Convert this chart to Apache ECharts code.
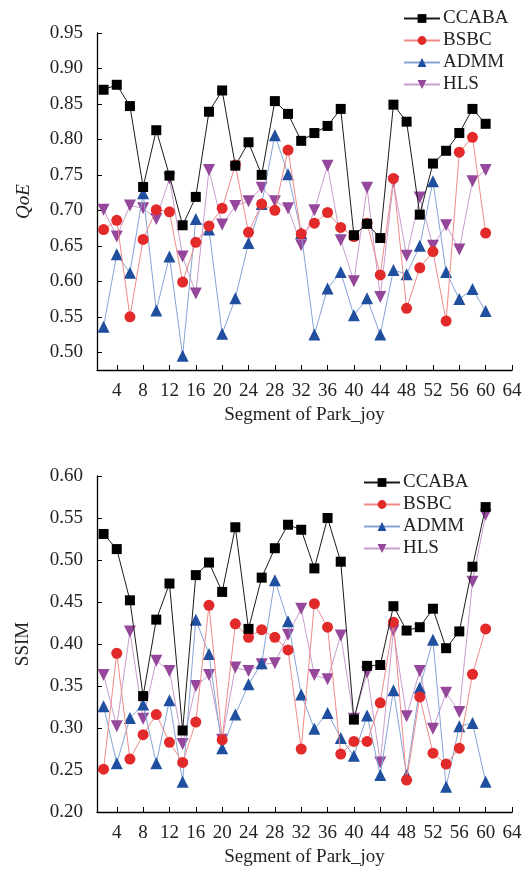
<!DOCTYPE html>
<html>
<head>
<meta charset="utf-8">
<script src="https://cdn.jsdelivr.net/npm/echarts@6/dist/echarts.min.js"></script>
<style>
  html, body { margin: 0; padding: 0; background: #fff; }
  #main { width: 528px; height: 876px; }
</style>
</head>
<body>
<div id="main"></div>
<script>
var segments = [2, 4, 6, 8, 10, 12, 14, 16, 18, 20, 22, 24, 26, 28, 30,
  32, 34, 36, 38, 40, 42, 44, 46, 48, 50, 52, 54, 56, 58, 60];
var xTicks = [4, 8, 12, 16, 20, 24, 28, 32, 36, 40, 44, 48, 52, 56, 60, 64];
var qoeTicks = [0.50, 0.55, 0.60, 0.65, 0.70, 0.75, 0.80, 0.85, 0.90, 0.95];
var ssimTicks = [0.20, 0.25, 0.30, 0.35, 0.40, 0.45, 0.50, 0.55, 0.60];

var qoeCCABA = [0.870, 0.877, 0.847, 0.733, 0.813, 0.749, 0.679, 0.719, 0.839, 0.869, 0.763, 0.796, 0.750, 0.854, 0.836,
  0.798, 0.809, 0.819, 0.843, 0.665, 0.681, 0.661, 0.849, 0.825, 0.694, 0.766, 0.784, 0.809, 0.843, 0.822];
var qoeBSBC = [0.673, 0.686, 0.550, 0.659, 0.701, 0.698, 0.599, 0.655, 0.678, 0.703, 0.764, 0.669, 0.709, 0.700, 0.785,
  0.667, 0.682, 0.697, 0.676, 0.663, 0.682, 0.609, 0.745, 0.562, 0.619, 0.642, 0.544, 0.782, 0.803, 0.668];
var qoeADMM = [0.536, 0.638, 0.612, 0.724, 0.559, 0.635, 0.495, 0.688, 0.673, 0.526, 0.576, 0.654, 0.709, 0.806, 0.751,
  0.668, 0.525, 0.590, 0.613, 0.552, 0.576, 0.525, 0.616, 0.610, 0.650, 0.741, 0.613, 0.575, 0.589, 0.558];
var qoeHLS = [0.701, 0.663, 0.707, 0.703, 0.688, 0.745, 0.635, 0.583, 0.757, 0.680, 0.706, 0.713, 0.732, 0.713, 0.703,
  0.651, 0.700, 0.763, 0.658, 0.600, 0.732, 0.578, 0.740, 0.636, 0.718, 0.650, 0.679, 0.645, 0.741, 0.757];

var ssimCCABA = [0.531, 0.513, 0.452, 0.338, 0.429, 0.472, 0.297, 0.482, 0.497, 0.462, 0.539, 0.418, 0.479, 0.514, 0.542,
  0.536, 0.490, 0.550, 0.498, 0.310, 0.374, 0.375, 0.445, 0.416, 0.420, 0.442, 0.395, 0.415, 0.492, 0.563];
var ssimBSBC = [0.251, 0.389, 0.263, 0.292, 0.316, 0.283, 0.259, 0.307, 0.446, 0.286, 0.424, 0.408, 0.417, 0.408, 0.393,
  0.275, 0.448, 0.420, 0.269, 0.284, 0.284, 0.330, 0.426, 0.238, 0.337, 0.270, 0.257, 0.276, 0.364, 0.418];
var ssimADMM = [0.326, 0.258, 0.312, 0.328, 0.258, 0.333, 0.236, 0.429, 0.388, 0.276, 0.316, 0.352, 0.377, 0.476, 0.427,
  0.340, 0.299, 0.318, 0.288, 0.267, 0.315, 0.244, 0.345, 0.244, 0.348, 0.405, 0.230, 0.302, 0.306, 0.236];
var ssimHLS = [0.363, 0.302, 0.415, 0.311, 0.380, 0.368, 0.281, 0.350, 0.363, 0.286, 0.372, 0.368, 0.376, 0.377, 0.411,
  0.442, 0.363, 0.358, 0.410, 0.311, 0.366, 0.259, 0.416, 0.314, 0.368, 0.299, 0.342, 0.319, 0.474, 0.554];

var font = 'Liberation Serif, Times New Roman, serif';

// name, marker colour, line colour, symbol, size, rotate
var styles = [
  ['CCABA', '#000000', '#1a1a1a', 'rect', 10, 0],
  ['BSBC', '#e32a2a', '#ef8a8a', 'circle', 11, 0],
  ['ADMM', '#1f4f9e', '#86a4d6', 'triangle', 12, 0],
  ['HLS', '#95479b', '#c99dce', 'triangle', 12, 180]
];

function pairs(vals) {
  return segments.map(function (x, i) { return [x, vals[i]]; });
}

function makeSeries(idx, sets) {
  return styles.map(function (s, k) {
    return {
      name: s[0],
      type: 'line',
      xAxisIndex: idx,
      yAxisIndex: idx,
      data: pairs(sets[k]),
      symbol: s[3],
      symbolSize: s[4],
      symbolRotate: s[5],
      lineStyle: { color: s[2], width: 1 },
      itemStyle: { color: s[1] },
      emphasis: { disabled: true },
      z: 10 - k
    };
  });
}

function xAxis(idx) {
  return {
    type: 'value',
    gridIndex: idx,
    min: 1,
    max: 64,
    name: 'Segment of Park_joy',
    nameLocation: 'middle',
    nameGap: 36,
    nameTextStyle: { fontFamily: font, fontSize: 19, color: '#222' },
    axisLine: { lineStyle: { color: '#000', width: 1.3 } },
    axisTick: { inside: true, length: 5, customValues: xTicks, lineStyle: { color: '#000' } },
    axisLabel: { customValues: xTicks, fontFamily: font, fontSize: 19, color: '#222', margin: 12 },
    splitLine: { show: false }
  };
}

function yAxis(idx, min, max, ticks, name, italic) {
  return {
    type: 'value',
    gridIndex: idx,
    min: min,
    max: max,
    name: name,
    nameLocation: 'middle',
    nameGap: 64,
    nameRotate: 90,
    nameTextStyle: { fontFamily: font, fontSize: 19, color: '#222', fontStyle: italic ? 'italic' : 'normal' },
    axisLine: { show: true, lineStyle: { color: '#000', width: 1.3 } },
    axisTick: { show: true, inside: true, length: 5, customValues: ticks, lineStyle: { color: '#000' } },
    axisLabel: {
      customValues: ticks, fontFamily: font, fontSize: 19, color: '#222', margin: 14,
      formatter: function (v) { return v.toFixed(2); }
    },
    splitLine: { show: false }
  };
}

function legend(left, top) {
  return {
    left: left,
    top: top,
    orient: 'vertical',
    itemWidth: 36,
    itemHeight: 11,
    itemGap: 3,
    textStyle: { fontFamily: font, fontSize: 19, color: '#222', padding: [0, 0, 0, -2] },
    data: styles.map(function (s) { return s[0]; })
  };
}

var chart = echarts.init(document.getElementById('main'), null, { renderer: 'canvas' });
chart.setOption({
  animation: false,
  backgroundColor: '#fff',
  grid: [
    { left: 97, right: 16, top: 33, height: 337, outerBoundsMode: 'none' },
    { left: 97, right: 16, top: 476, height: 336, outerBoundsMode: 'none' }
  ],
  legend: [legend(398, 4), legend(358, 468)],
  xAxis: [xAxis(0), xAxis(1)],
  yAxis: [
    yAxis(0, 0.475, 0.95, qoeTicks, 'QoE', true),
    yAxis(1, 0.20, 0.60, ssimTicks, 'SSIM', false)
  ],
  series: makeSeries(0, [qoeCCABA, qoeBSBC, qoeADMM, qoeHLS])
    .concat(makeSeries(1, [ssimCCABA, ssimBSBC, ssimADMM, ssimHLS]))
});
</script>
</body>
</html>
